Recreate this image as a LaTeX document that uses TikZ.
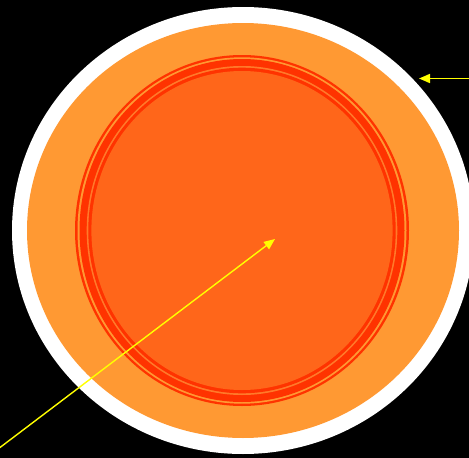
\documentclass[tikz,border=0pt]{standalone}
\usetikzlibrary{arrows.meta}
\definecolor{ringwhite}{HTML}{FFFFFF}
\definecolor{lightorange}{HTML}{FF9933}
\definecolor{ringred}{HTML}{FF3300}
\definecolor{midgap}{HTML}{FF7A2A}
\definecolor{corefill}{HTML}{FF661A}
\definecolor{arrowyellow}{HTML}{FFFF00}
\begin{document}
\begin{tikzpicture}[x=1pt,y=-1pt,
  yarrow/.style={draw=arrowyellow,line width=1.6pt,-{Triangle[length=11pt,width=9pt]}}]
\fill[black] (0,0) rectangle (469,458);
\useasboundingbox (0,0) rectangle (469,458);
% outer shells
\fill[ringwhite] (243,230.5) ellipse [x radius=231,y radius=223.5];
\fill[lightorange] (243,230.5) ellipse [x radius=216,y radius=207.5];
% inner rings
\fill[ringred] (242,230.5) ellipse [x radius=167,y radius=175.5];
\fill[lightorange] (242,230.5) ellipse [x radius=164.5,y radius=173.2];
\fill[ringred] (242,230.5) ellipse [x radius=162.5,y radius=171.5];
\fill[midgap] (242,230.5) ellipse [x radius=155.3,y radius=164.5];
\fill[ringred] (242,230.5) ellipse [x radius=153.7,y radius=162.8];
\fill[corefill] (242,230.5) ellipse [x radius=150.6,y radius=159.5];
% arrows
\coordinate (a1start) at (470,78.5);
\coordinate (a1tip) at (419,78.5);
\coordinate (a2start) at (-2,449);
\coordinate (a2tip) at (275,239);
\draw[yarrow] (a1start) -- (a1tip);
\draw[yarrow,line width=1.4pt] (a2start) -- (a2tip);
\end{tikzpicture}
\end{document}
